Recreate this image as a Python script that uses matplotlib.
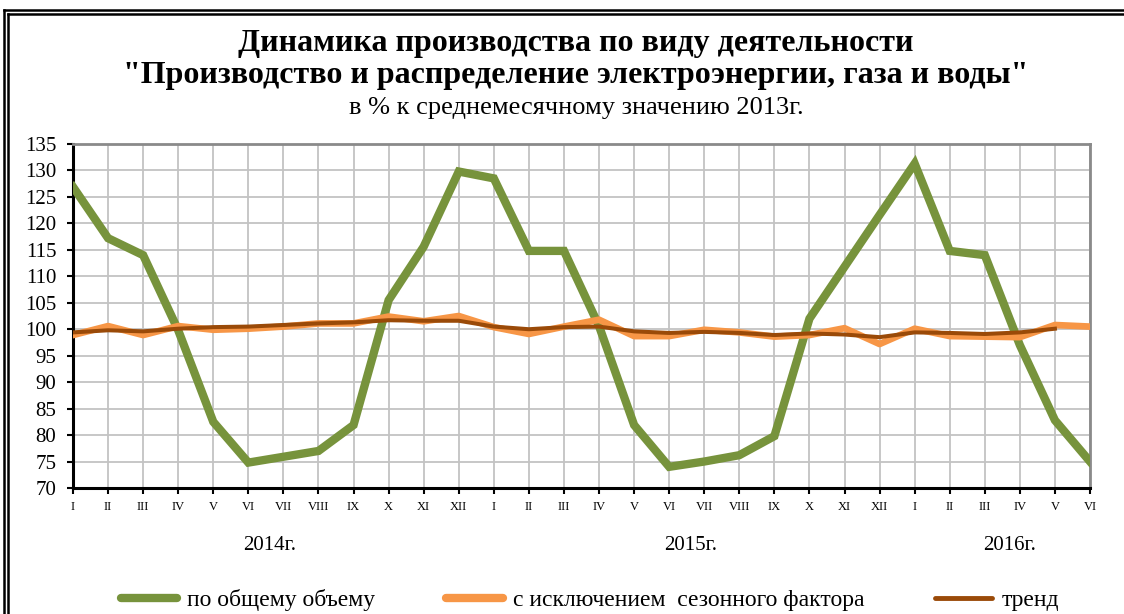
import matplotlib
matplotlib.use("Agg")
import matplotlib.pyplot as plt
from matplotlib.lines import Line2D
from matplotlib.transforms import blended_transform_factory

plt.rcParams['font.family'] = ['Liberation Serif', 'DejaVu Serif']

# месяцы: январь 2014 - июнь 2016
months = ['I', 'II', 'III', 'IV', 'V', 'VI', 'VII', 'VIII', 'IX', 'X', 'XI', 'XII'] * 2 + \
         ['I', 'II', 'III', 'IV', 'V', 'VI']

total = [126.9, 117.2, 114.0, 99.8, 82.5, 74.8, 75.9, 77.0, 81.9, 105.5, 115.6, 129.8,
         128.5, 114.8, 114.8, 100.6, 81.9, 74.0, 75.0, 76.2, 79.8, 102.0, 111.8, 121.6,
         131.3, 114.8, 114.0, 97.0, 82.8, 75.0]

seasonal = [98.9, 100.6, 98.9, 100.6, 99.9, 100.1, 100.5, 101.1, 101.1, 102.4, 101.5, 102.5,
            100.4, 99.1, 100.5, 101.8, 98.7, 98.7, 99.9, 99.4, 98.6, 98.9, 100.2, 97.2,
            100.1, 98.7, 98.6, 98.5, 100.8, 100.5]

trend = [99.4, 99.8, 99.6, 100.1, 100.4, 100.5, 100.8, 101.1, 101.3, 101.7, 101.6, 101.6,
         100.5, 100.0, 100.4, 100.5, 99.6, 99.3, 99.5, 99.3, 98.9, 99.2, 99.0, 98.5,
         99.4, 99.3, 99.1, 99.4, 100.1]

years = ['2014г.', '2015г.', '2016г.']
year_pos = [5.6, 17.6, 26.7]

green = '#77933C'
orange = '#F79646'
brown = '#9A4A08'

fig = plt.figure(figsize=(11.24, 6.14), dpi=100)
ax = fig.add_axes([73 / 1124, 1 - 488 / 614, (1090 - 73) / 1124, (488 - 144) / 614])

x = list(range(len(total)))
ax.plot(x, total, color=green, lw=6, solid_joinstyle='miter', zorder=3)
ax.plot(x, seasonal, color=orange, lw=4.8, zorder=4)
ax.plot(range(len(trend)), trend, color=brown, lw=2.9, zorder=5)

ax.set_xlim(0, len(total) - 1)
ax.set_ylim(70, 135)
ax.set_yticks(range(70, 136, 5))
ax.set_xticks(x)
ax.set_xticklabels(months, fontsize=9)
ax.tick_params(axis='y', labelsize=15, length=4, width=1.5, pad=8)
ax.tick_params(axis='x', length=4, width=1.5, pad=5)
ax.grid(True, color='#c3c3c3', lw=1.3)
ax.set_axisbelow(True)
for side in ['top', 'right']:
    ax.spines[side].set_color('#8a8a8a')
    ax.spines[side].set_linewidth(2)
for side in ['left', 'bottom']:
    ax.spines[side].set_color('black')
    ax.spines[side].set_linewidth(2.2)

trans = blended_transform_factory(ax.transData, fig.transFigure)
for name, pos in zip(years, year_pos):
    ax.text(pos, 1 - 545 / 614, name, transform=trans, ha='center', va='center', fontsize=15)

cx = 576 / 1124
fig.text(cx, 1 - 44 / 614, 'Динамика производства по виду деятельности',
         ha='center', va='center', fontsize=23, fontweight='bold')
fig.text(cx, 1 - 76 / 614, '"Производство и распределение электроэнергии, газа и воды"',
         ha='center', va='center', fontsize=23, fontweight='bold')
fig.text(cx, 1 - 108 / 614, 'в % к среднемесячному значению 2013г.',
         ha='center', va='center', fontsize=19)

handles = [Line2D([], [], color=green, lw=6, solid_capstyle='round'),
           Line2D([], [], color=orange, lw=6, solid_capstyle='round'),
           Line2D([], [], color=brown, lw=3.5, solid_capstyle='round')]
labels = ['по общему объему', 'с исключением  сезонного фактора', 'тренд']
fig.legend(handles, labels, loc='center', bbox_to_anchor=(0.525, 1 - 600 / 614), ncol=3,
           frameon=False, fontsize=17, handlelength=2.4, handletextpad=0.42,
           columnspacing=3.0)

# двойная рамка
for off in [3.5, 8]:
    fig.add_artist(Line2D([off / 1124, off / 1124], [0, 1 - (6 + off) / 614],
                          transform=fig.transFigure, color='black', lw=1.8))
    fig.add_artist(Line2D([off / 1124, 1], [1 - (6 + off) / 614, 1 - (6 + off) / 614],
                          transform=fig.transFigure, color='black', lw=1.8))

fig.savefig('out.png', dpi=100)
